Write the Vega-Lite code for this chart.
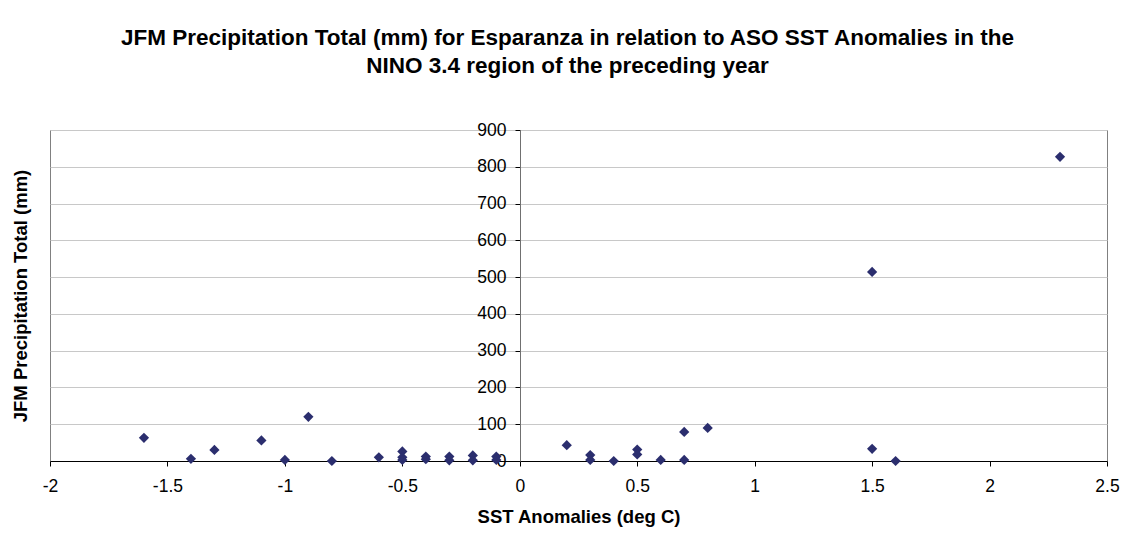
{
  "$schema": "https://vega.github.io/schema/vega-lite/v6.json",
  "width": 1057,
  "height": 331,
  "autosize": {"type": "none"},
  "padding": {"left": 50, "top": 130, "right": 25, "bottom": 77},
  "background": "white",
  "title": {
    "text": ["JFM Precipitation Total (mm) for Esparanza in relation to ASO SST Anomalies in the", "NINO 3.4 region of the preceding year"],
    "font": "Liberation Sans",
    "fontSize": 22.5,
    "fontWeight": "bold",
    "lineHeight": 28,
    "color": "#000000",
    "anchor": "middle",
    "dx": -11,
    "offset": 44
  },
  "data": {
    "values": [
      {"sst": -1.6, "precip": 63},
      {"sst": -1.4, "precip": 6},
      {"sst": -1.3, "precip": 30},
      {"sst": -1.1, "precip": 56},
      {"sst": -1.0, "precip": 3},
      {"sst": -0.9, "precip": 120},
      {"sst": -0.8, "precip": 0},
      {"sst": -0.6, "precip": 10},
      {"sst": -0.5, "precip": 26},
      {"sst": -0.5, "precip": 10},
      {"sst": -0.5, "precip": 3},
      {"sst": -0.4, "precip": 12},
      {"sst": -0.4, "precip": 5},
      {"sst": -0.3, "precip": 12},
      {"sst": -0.3, "precip": 2},
      {"sst": -0.2, "precip": 15},
      {"sst": -0.2, "precip": 2},
      {"sst": -0.1, "precip": 12},
      {"sst": -0.1, "precip": 3},
      {"sst": 0.2, "precip": 43},
      {"sst": 0.3, "precip": 16},
      {"sst": 0.3, "precip": 3},
      {"sst": 0.4, "precip": 0},
      {"sst": 0.5, "precip": 31},
      {"sst": 0.5, "precip": 18},
      {"sst": 0.6, "precip": 3},
      {"sst": 0.7, "precip": 79},
      {"sst": 0.7, "precip": 3},
      {"sst": 0.8, "precip": 90},
      {"sst": 1.5, "precip": 514},
      {"sst": 1.5, "precip": 33},
      {"sst": 1.6, "precip": 0},
      {"sst": 2.3, "precip": 827}
    ]
  },
  "mark": {"type": "point", "shape": "diamond", "filled": true, "size": 105, "color": "#2B2E6E", "opacity": 1},
  "encoding": {
    "x": {
      "field": "sst",
      "type": "quantitative",
      "scale": {"domain": [-2, 2.5], "nice": false, "zero": false},
      "axis": {
        "title": "SST Anomalies (deg C)",
        "values": [-2, -1.5, -1, -0.5, 0, 0.5, 1, 1.5, 2, 2.5],
        "labelExpr": "'' + datum.value",
        "grid": false,
        "domainColor": "#000000",
        "tickColor": "#000000",
        "tickSize": 5,
        "labelPadding": 11,
        "labelFont": "Liberation Sans",
        "labelFontSize": 17.5,
        "labelColor": "#000000",
        "labelFlush": false,
        "titleFont": "Liberation Sans",
        "titleFontSize": 18.5,
        "titleFontWeight": "bold",
        "titleColor": "#000000",
        "titlePadding": 13
      }
    },
    "y": {
      "field": "precip",
      "type": "quantitative",
      "scale": {"domain": [0, 900], "nice": false},
      "axis": {
        "title": "JFM Precipitation Total (mm)",
        "values": [0, 100, 200, 300, 400, 500, 600, 700, 800, 900],
        "offset": -470,
        "grid": true,
        "gridColor": "#C8C8C8",
        "gridWidth": 1,
        "domainColor": "#707070",
        "tickColor": "#000000",
        "tickSize": 5,
        "labelPadding": 9,
        "labelFont": "Liberation Sans",
        "labelFontSize": 17.5,
        "labelColor": "#000000",
        "labelFlush": false,
        "titleFont": "Liberation Sans",
        "titleFontSize": 18.5,
        "titleFontWeight": "bold",
        "titleColor": "#000000",
        "titleX": -500,
        "titleY": 165.5,
        "titleAngle": -90,
        "titleAlign": "center",
        "titleBaseline": "middle"
      }
    }
  },
  "config": {
    "view": {"stroke": "#808080", "strokeWidth": 1}
  }
}
